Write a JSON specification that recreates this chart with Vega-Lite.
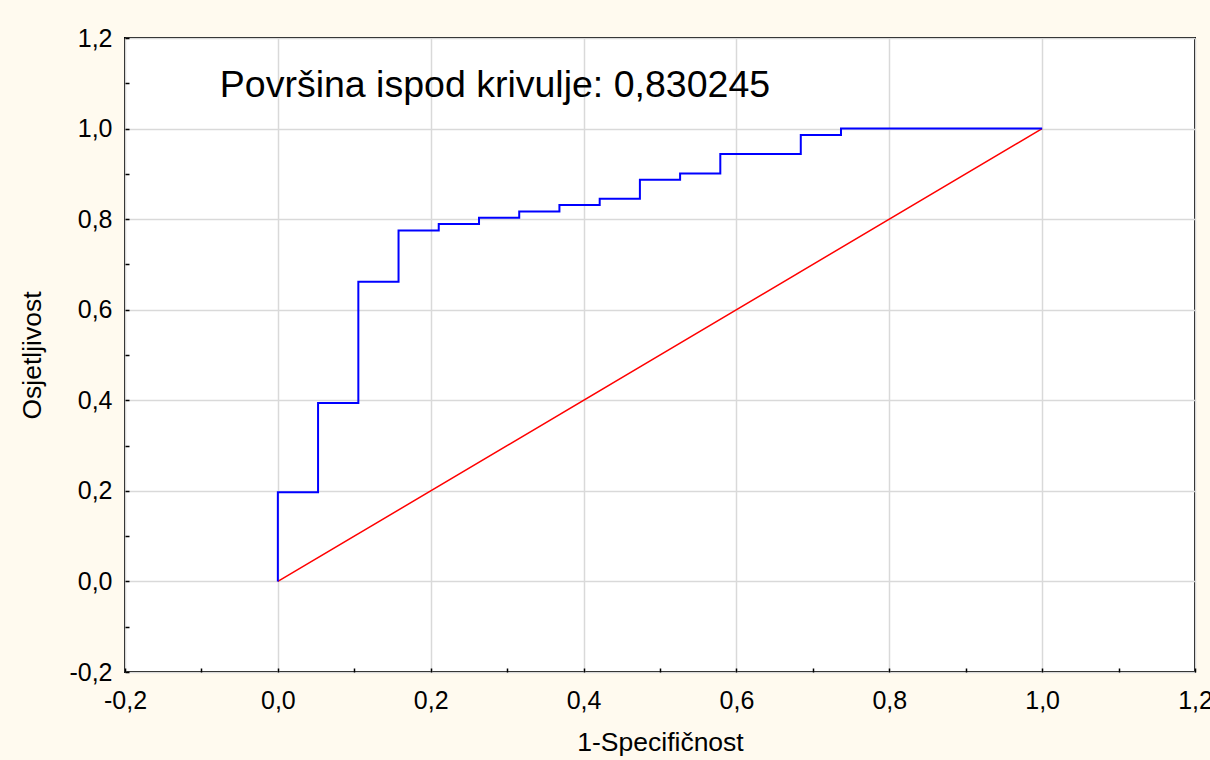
{
  "$schema": "https://vega.github.io/schema/vega-lite/v6.json",
  "width": 1070,
  "height": 634,
  "autosize": {"type": "none"},
  "padding": {"left": 125, "top": 38, "right": 15, "bottom": 88},
  "background": "#fffaef",
  "config": {
    "font": "Liberation Sans",
    "view": {"fill": "#ffffff", "stroke": "#000000", "strokeWidth": 2},
    "axis": {
      "domain": false,
      "gridColor": "#d9d9d9",
      "gridWidth": 1.5,
      "tickColor": "#000000",
      "tickWidth": 1.5,
      "labelFontSize": 25,
      "labelColor": "#000000",
      "titleFontSize": 26.5,
      "titleFontWeight": "normal",
      "titleColor": "#000000",
      "labelFlush": false,
      "labelOverlap": false
    }
  },
  "layer": [
    {
      "data": {"values": [{"x": 0, "y": 0}, {"x": 1, "y": 1}]},
      "mark": {"type": "line", "color": "#ff0000", "strokeWidth": 1.5},
      "encoding": {
        "x": {
          "field": "x", "type": "quantitative",
          "scale": {"domain": [-0.2, 1.2], "nice": false, "zero": false},
          "axis": {
            "title": "1-Specifičnost",
            "values": [-0.2, -0.1, 0, 0.1, 0.2, 0.3, 0.4, 0.5, 0.6, 0.7, 0.8, 0.9, 1.0, 1.1, 1.2],
            "labelExpr": "abs(round(datum.value*10))%2==0 ? (datum.value<0 ? '-' : '') + replace(format(abs(datum.value),'.1f'),'.',',') : ''",
            "gridOpacity": {"condition": {"test": "abs(round(datum.value*10))%2==1", "value": 0}, "value": 1},
            "tickSize": -4,
            "labelPadding": 20,
            "titlePadding": 16
          }
        },
        "y": {
          "field": "y", "type": "quantitative",
          "scale": {"domain": [-0.2, 1.2], "nice": false, "zero": false},
          "axis": {
            "title": "Osjetljivost",
            "values": [-0.2, -0.1, 0, 0.1, 0.2, 0.3, 0.4, 0.5, 0.6, 0.7, 0.8, 0.9, 1.0, 1.1, 1.2],
            "labelExpr": "abs(round(datum.value*10))%2==0 ? (datum.value<0 ? '-' : '') + replace(format(abs(datum.value),'.1f'),'.',',') : ''",
            "gridOpacity": {"condition": {"test": "abs(round(datum.value*10))%2==1", "value": 0}, "value": 1},
            "tickSize": -4,
            "labelPadding": 17,
            "titlePadding": 22
          }
        }
      }
    },
    {
      "data": {"values": [
        {"i": 0, "x": 0, "y": 0},
        {"i": 1, "x": 0, "y": 0.197},
        {"i": 2, "x": 0.0526, "y": 0.394},
        {"i": 3, "x": 0.1053, "y": 0.662},
        {"i": 4, "x": 0.1579, "y": 0.775},
        {"i": 5, "x": 0.2105, "y": 0.789},
        {"i": 6, "x": 0.2632, "y": 0.803},
        {"i": 7, "x": 0.3158, "y": 0.817},
        {"i": 8, "x": 0.3684, "y": 0.831},
        {"i": 9, "x": 0.4211, "y": 0.845},
        {"i": 10, "x": 0.4737, "y": 0.887},
        {"i": 11, "x": 0.5263, "y": 0.901},
        {"i": 12, "x": 0.5789, "y": 0.944},
        {"i": 13, "x": 0.6842, "y": 0.986},
        {"i": 14, "x": 0.7368, "y": 1.0},
        {"i": 15, "x": 1.0, "y": 1.0}
      ]},
      "mark": {"type": "line", "color": "#0000ff", "strokeWidth": 2, "interpolate": "step-after"},
      "encoding": {
        "x": {"field": "x", "type": "quantitative"},
        "y": {"field": "y", "type": "quantitative"},
        "order": {"field": "i", "type": "quantitative"}
      }
    },
    {
      "data": {"values": [{"label": "Površina ispod krivulje: 0,830245"}]},
      "mark": {"type": "text", "align": "left", "baseline": "alphabetic", "fontSize": 37.5, "color": "#000000"},
      "encoding": {
        "x": {"datum": -0.076, "type": "quantitative"},
        "y": {"datum": 1.0706, "type": "quantitative"},
        "text": {"field": "label"}
      }
    }
  ]
}
